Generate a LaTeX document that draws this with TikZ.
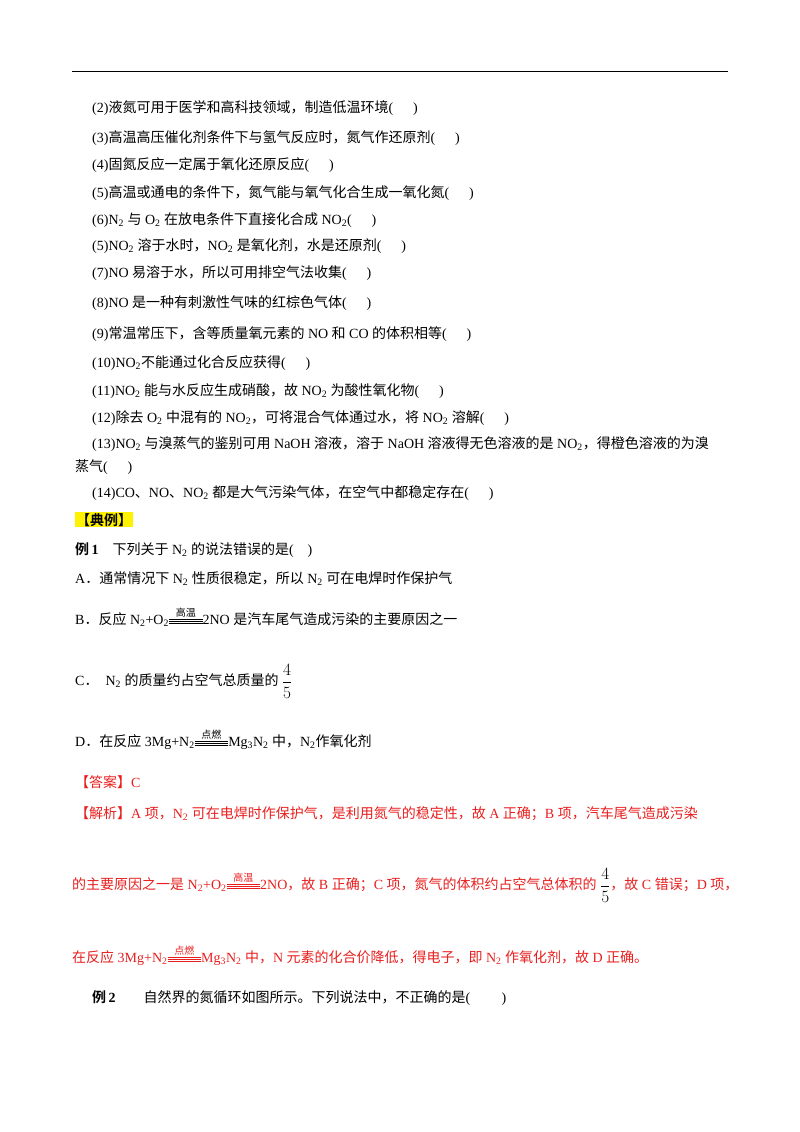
\documentclass[tikz,border=0pt]{standalone}
\usepackage{fontspec}
\setmainfont{Liberation Serif}
\newfontfamily\cjk{Noto Sans CJK SC}[BoldFont={Noto Sans CJK SC Bold}]
\XeTeXinterchartokenstate=1
\newXeTeXintercharclass\CJKcls
\count255="3000
\loop \XeTeXcharclass\count255=\CJKcls \ifnum\count255<"9FFF \advance\count255 by 1 \repeat
\count255="FF00
\loop \XeTeXcharclass\count255=\CJKcls \ifnum\count255<"FFEF \advance\count255 by 1 \repeat
\XeTeXinterchartoks 0 \CJKcls = {\cjk}
\XeTeXinterchartoks 4095 \CJKcls = {\cjk}
\XeTeXinterchartoks \CJKcls 0 = {\rmfamily}
\XeTeXinterchartoks \CJKcls 4095 = {\rmfamily}
\newcommand\sbs[1]{\textsubscript{#1}}
\newcommand\cond[1]{\rlap{\raisebox{1.2ex}{\makebox[2.4em]{\fontsize{10}{10}\selectfont #1}}}\rlap{\rule[0.1ex]{2.4em}{0.35pt}}\rlap{\rule[0.45ex]{2.4em}{0.35pt}}\rule[0.8ex]{2.4em}{0.35pt}}
\newcommand\fr{$\dfrac{4}{5}$}
\usepackage{amsmath}
\definecolor{ans}{RGB}{232,30,30}
\begin{document}
\begin{tikzpicture}[x=1pt,y=-1pt,
  t/.style={anchor=base west,inner sep=0pt,font=\fontsize{14}{16}\selectfont},
  r/.style={t,text=ans}]
\useasboundingbox (0,0) rectangle (800,1132);
\draw[line width=1pt] (72,72) -- (728,72);
\node[t] (l2) at (92,112) {(2)液氮可用于医学和高科技领域，制造低温环境(\quad\ \,)};
\node[t] (l3) at (92,142) {(3)高温高压催化剂条件下与氢气反应时，氮气作还原剂(\quad\ \,)};
\node[t] (l4) at (92,169) {(4)固氮反应一定属于氧化还原反应(\quad\ \,)};
\node[t] (l5) at (92,197) {(5)高温或通电的条件下，氮气能与氧气化合生成一氧化氮(\quad\ \,)};
\node[t] (l6) at (92,224) {(6)N\sbs{2} 与 O\sbs{2} 在放电条件下直接化合成 NO\sbs{2}(\quad\ \,)};
\node[t] (l5b) at (92,250) {(5)NO\sbs{2} 溶于水时，NO\sbs{2} 是氧化剂，水是还原剂(\quad\ \,)};
\node[t] (l7) at (92,277) {(7)NO 易溶于水，所以可用排空气法收集(\quad\ \,)};
\node[t] (l8) at (92,307) {(8)NO 是一种有刺激性气味的红棕色气体(\quad\ \,)};
\node[t] (l9) at (92,338) {(9)常温常压下，含等质量氧元素的 NO 和 CO 的体积相等(\quad\ \,)};
\node[t] (l10) at (92,367) {(10)NO\sbs{2}不能通过化合反应获得(\quad\ \,)};
\node[t] (l11) at (92,395) {(11)NO\sbs{2} 能与水反应生成硝酸，故 NO\sbs{2} 为酸性氧化物(\quad\ \,)};
\node[t] (l12) at (92,422) {(12)除去 O\sbs{2} 中混有的 NO\sbs{2}，可将混合气体通过水，将 NO\sbs{2} 溶解(\quad\ \,)};
\node[t] (l13) at (92,448) {(13)NO\sbs{2} 与溴蒸气的鉴别可用 NaOH 溶液，溶于 NaOH 溶液得无色溶液的是 NO\sbs{2}，得橙色溶液的为溴};
\node[t] (l13b) at (75,471) {蒸气(\quad\ \,)};
\node[t] (l14) at (92,497) {(14)CO、NO、NO\sbs{2} 都是大气污染气体，在空气中都稳定存在(\quad\ \,)};
\node[t,fill=yellow,inner sep=1pt,font=\fontsize{14}{16}\selectfont\bfseries] (dl) at (75,525) {【典例】};
\node[t] (e1) at (75,554) {\textbf{例\,1}\quad 下列关于 N\sbs{2} 的说法错误的是(\quad )};
\node[t] (oa) at (75,583) {A．通常情况下 N\sbs{2} 性质很稳定，所以 N\sbs{2} 可在电焊时作保护气};
\node[t] (ob) at (75,624) {B．反应 N\sbs{2}+O\sbs{2}\cond{高温}2NO 是汽车尾气造成污染的主要原因之一};
\node[t] (oc) at (75,685) {C．\ \ N\sbs{2} 的质量约占空气总质量的 \raisebox{-2pt}{\fontsize{16}{16}\selectfont\fr}};
\node[t] (od) at (75,746) {D．在反应 3Mg+N\sbs{2}\cond{点燃}Mg\sbs{3}N\sbs{2} 中，N\sbs{2}作氧化剂};
\node[r] (da) at (75,787) {【答案】C};
\node[r] (jx) at (75,818) {【解析】A 项，N\sbs{2} 可在电焊时作保护气，是利用氮气的稳定性，故 A 正确；B 项，汽车尾气造成污染};
\node[r] (jx2) at (72,889) {的主要原因之一是 N\sbs{2}+O\sbs{2}\cond{高温}2NO，故 B 正确；C 项，氮气的体积约占空气总体积的 \raisebox{-2pt}{\fontsize{16}{16}\selectfont\color{black}\fr}，故 C 错误；D 项，};
\node[r] (jx3) at (72,962) {在反应 3Mg+N\sbs{2}\cond{点燃}Mg\sbs{3}N\sbs{2} 中，N 元素的化合价降低，得电子，即 N\sbs{2} 作氧化剂，故 D 正确。};
\node[t] (e2) at (92,1002) {\textbf{例\,2}\qquad 自然界的氮循环如图所示。下列说法中，不正确的是(\qquad\ )};
\end{tikzpicture}
\end{document}
